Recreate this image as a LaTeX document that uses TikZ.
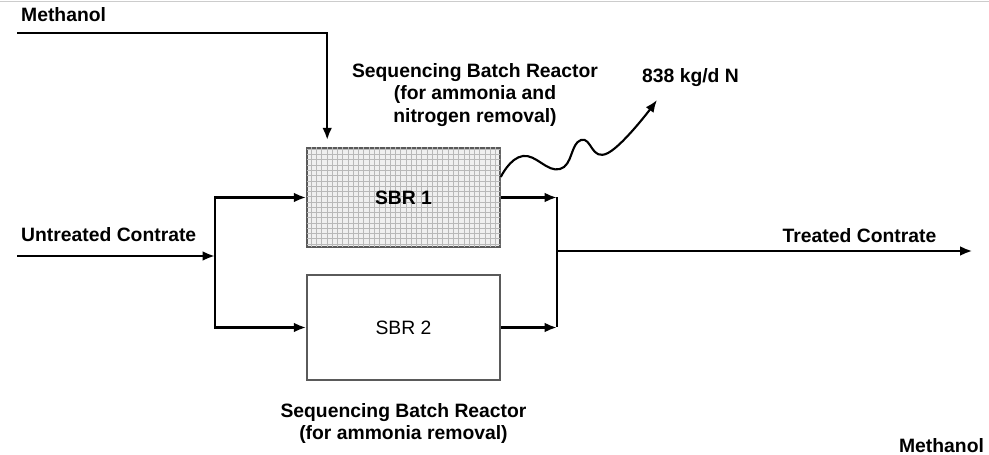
\documentclass[tikz,border=0pt]{standalone}
\usepackage{fontspec}
\setmainfont{Liberation Sans}
\usetikzlibrary{
  arrows.meta,
  positioning,
  patterns
}
\definecolor{frame}{RGB}{90,90,90}

\begin{document}
\begin{tikzpicture}[
  every node/.style={font=\bfseries\fontsize{11}{13}\selectfont},
  pipe/.style={line width=1.4pt},
  flow/.style={pipe, -{Latex[length=7pt,width=5.5pt]}},
  reactor/.style={draw=frame, line width=0.9pt, minimum width=3.86cm,
                  inner sep=0},
  >=Latex
]
\useasboundingbox (0,0) rectangle (19.78,9.1);
\draw[gray!40] (0,9.08) -- (19.78,9.08);

% Reactors
\node[reactor, minimum height=1.98cm, fill=gray!12,
      postaction={pattern=grid, pattern color=gray!55}] (sbr1) at (8.07,5.15) {};
\node at (sbr1) {SBR 1};
\node[reactor, minimum height=2.1cm, font=\fontsize{11}{13}\selectfont] (sbr2) at (8.07,2.55) {SBR 2};

\node[align=center] (lbl1) at (9.5,7.2) {Sequencing Batch Reactor\\(for ammonia and\\nitrogen removal)};
\node[align=center, below=0.32cm of sbr2] (lbl2) {Sequencing Batch Reactor\\(for ammonia removal)};

% Methanol feed
\node[anchor=west] (meth) at (0.3,8.8) {Methanol};
\coordinate (methin) at (0.34,8.44);
\draw[flow, shorten >=4pt] (methin) -| ([xshift=0.42cm]sbr1.north west);

% Untreated contrate
\node[anchor=west] (untr) at (0.3,4.4) {Untreated Contrate};
\coordinate (rawin) at (0.34,3.98);
\coordinate (split) at (4.3,3.98);
\draw[flow] (rawin) -- (split);
\draw[flow] (split) |- (sbr1.west);
\draw[flow] (split) |- (sbr2.west);

% Treated contrate
\coordinate (merge) at (11.14,4.08);
\coordinate (out) at (19.45,4.08);
\draw[flow] (sbr1.east) -- (sbr1.east -| merge);
\draw[flow] (sbr2.east) -- (sbr2.east -| merge);
\draw[pipe] (sbr1.east -| merge) -- (sbr2.east -| merge);
\draw[flow] (merge) -- (out);
\node[anchor=east] (treat) at (18.85,4.38) {Treated Contrate};

% Nitrogen off-gas
\node[anchor=west] (gas) at (12.72,7.54) {838 kg/d N};
\coordinate (wstart) at ([yshift=0.41cm]sbr1.east);
\coordinate (wend) at (13.14,7.1);
\draw[flow, line width=1.2pt] plot[smooth, tension=0.8]
  coordinates {(wstart) (10.46,5.98) (11.2,5.72) (11.62,6.3) (12.16,6.04) (wend)};

\node[anchor=south west, inner sep=1pt] (meth2) at (17.94,0) {Methanol};
\end{tikzpicture}
\end{document}
